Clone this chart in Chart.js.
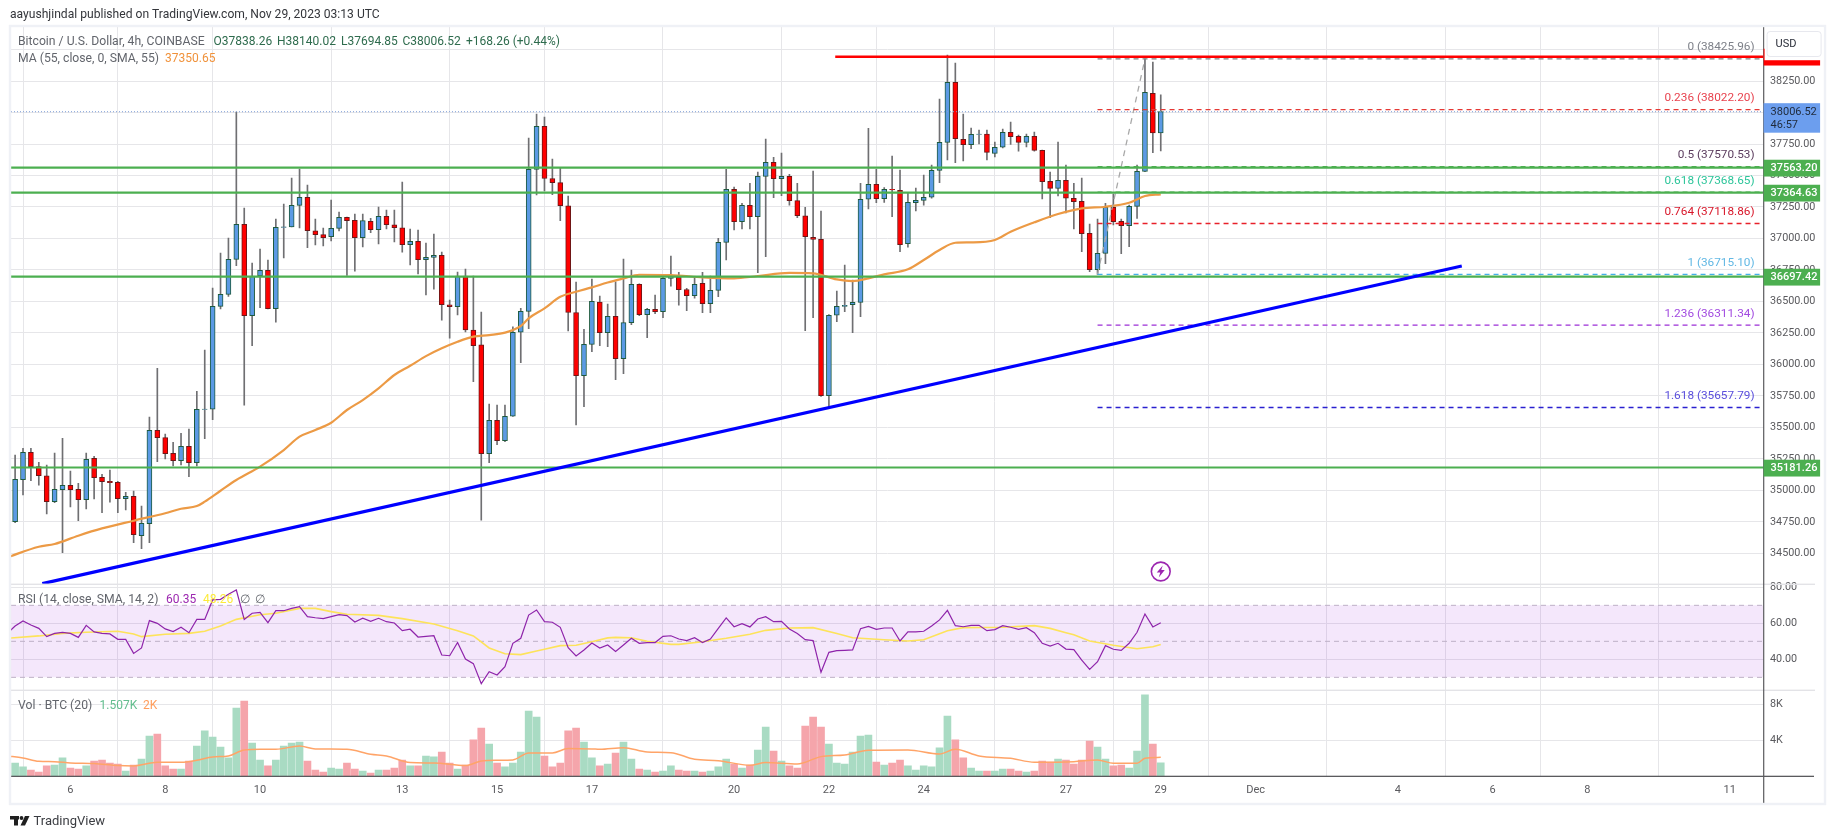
<!DOCTYPE html>
<html>
<head>
<meta charset="utf-8">
<title>Bitcoin / U.S. Dollar, 4h</title>
<script src="https://cdn.jsdelivr.net/npm/chart.js@4"></script>
<style>
  html, body { margin: 0; padding: 0; background: #fff; }
  canvas { display: block; }
</style>
</head>
<body>
<canvas id="canvas" width="1835" height="839"></canvas>
<script>
// bar number 0 is Nov 6 00:00, one bar is 4 hours
var firstCandle = -7;
var opens = [34751,35084,35302,35188,35116,34910,35005,35040,35008,34925,
  35254,35103,35072,35064,34933,34953,34640,34735,35477,35418,
  35294,35235,35350,35219,35643,35645,36461,36556,36834,37112,
  36386,36702,36747,36442,37088,37092,37263,37327,37061,37030,
  37014,37080,37168,37143,37006,37136,37069,37176,37109,37085,
  36950,36977,36831,36850,36866,36474,36458,36702,36273,36155,
  35291,35556,35394,35588,36255,36421,37549,37890,37476,37443,
  37260,36412,35910,36159,36495,36252,36382,36045,36332,36636,
  36394,36437,36418,36683,36691,36595,36545,36644,36482,36588,
  36969,37390,37133,37263,37173,37493,37604,37474,37493,37300,
  37180,37009,36993,35751,36390,36461,36474,36493,37311,37430,
  37315,37390,37383,36958,37284,37303,37327,37541,37763,38240,
  37787,37744,37827,37829,37676,37724,37843,37811,37763,37811,
  37700,37453,37398,37462,37319,37295,37041,36752,36882,37247,
  37136,37101,37255,37533,38152,37838.26];
var highs = [35280,35334,35334,35222,35201,35296,35413,35153,35056,35296,
  35270,35127,35161,35072,34984,34995,34875,35582,35969,35447,
  35381,35453,35487,35786,36114,36606,36884,37003,38004,37242,
  36805,36916,36829,37154,37273,37480,37551,37424,37154,37083,
  37305,37210,37170,37194,37194,37160,37250,37226,37226,37448,
  37075,37067,36964,37035,36892,36511,36733,36757,36702,36416,
  35685,35677,35677,36299,36445,37797,37988,37964,37631,37562,
  37337,36654,36278,36678,36543,36479,36656,36837,36749,36640,
  36445,36551,36696,36860,36731,36604,36696,36731,36702,37001,
  37549,37408,37279,37438,37527,37789,37644,37678,37509,37438,
  37247,37535,37218,36395,36583,36789,36670,37438,37874,37549,
  37403,37654,37543,37366,37400,37504,37583,38107,38456,38393,
  37988,37877,37861,37861,37766,37869,37924,37821,37829,37845,
  37702,37527,37766,37583,37438,37480,37115,37154,37279,37353,
  37154,37265,37583,38425.96,38401,38140.02];
var lows = [34743,34963,35076,35042,34812,34902,34505,34868,34759,34852,
  34931,34822,34907,34822,34844,34584,34537,34584,35227,35249,
  35193,35201,35108,35193,35410,35561,36440,36540,36783,35677,
  36148,36450,36440,36336,36845,37091,37083,36926,36948,36940,
  36980,37059,36707,36741,36932,37045,36956,37075,36972,36892,
  36789,36718,36551,36598,36352,36209,36392,36257,35862,34764,
  35219,35362,35386,35586,36013,36283,37345,37377,37347,37141,
  36265,35519,35664,36101,36148,36140,35878,35926,36315,36386,
  36212,36402,36371,36622,36471,36426,36525,36410,36410,36537,
  36829,37067,37075,37075,36728,36855,37323,37339,37265,37165,
  36267,36371,35745,35664,36339,36418,36252,36379,37234,37284,
  37287,37173,36895,36930,37218,37265,37319,37443,37623,37601,
  37615,37712,37750,37623,37647,37718,37747,37694,37726,37694,
  37313,37165,37337,37202,37075,36895,36736,36715.1,36799,37107,
  36879,36934,37160,37530,37681,37694.85];
var closes = [35088,35302,35188,35116,34910,35008,35040,35005,34925,35246,
  35100,35068,35060,34933,34953,34648,34738,35477,35418,35291,
  35235,35350,35219,35643,35645,36461,36556,36834,37112,36386,
  36702,36747,36442,37088,37092,37263,37327,37061,37030,37006,
  37080,37168,37141,37006,37141,37069,37176,37109,37085,36950,
  36977,36831,36850,36866,36474,36458,36702,36273,36148,35291,
  35556,35394,35588,36255,36421,37549,37890,37476,37443,37260,
  36412,35910,36159,36501,36252,36382,36045,36332,36636,36394,
  36437,36418,36683,36696,36593,36545,36636,36482,36588,36969,
  37390,37133,37263,37173,37493,37604,37474,37493,37300,37180,
  37014,36993,35751,36390,36461,36469,36493,37311,37430,37315,
  37390,37385,36950,37287,37303,37327,37541,37763,38240,37792,
  37744,37827,37829,37684,37724,37843,37808,37763,37811,37700,
  37450,37398,37462,37319,37292,37038,36752,36882,37247,37133,
  37101,37255,37533,38160,37838.26,38006.52];

// volume and RSI also have the cut off bar at the left edge
var firstPaneBar = -8;
var volumes = [815,1480,1040,700,480,1150,1260,2040,925,815,
  1150,1700,1815,1480,1370,590,1260,1925,4480,4700,
  1150,815,815,1700,3370,5040,4370,3260,2040,7590,
  8370,3700,1815,1150,1815,3370,3700,3815,1700,700,
  480,925,815,1480,815,590,370,700,700,925,
  1815,1150,1150,2260,2150,2700,1480,815,1260,4040,
  5370,3590,1480,1040,1480,2700,7260,6590,2260,1040,
  1480,5040,5370,3815,2040,1150,1370,2590,3815,1925,
  815,700,480,590,1150,700,590,590,480,590,
  1040,1925,1370,925,1260,2925,5480,2815,1700,1150,
  925,5590,6590,5480,3590,1480,1370,2700,4480,4590,
  1590,1260,1480,1815,1150,700,1150,1040,3150,6700,
  4040,2040,925,590,590,590,815,815,590,480,
  590,1700,1590,1925,1815,1370,1815,3925,3260,1925,
  1150,1260,925,2815,9040,3590,1507];
var rsiValues = [54.4,58.5,61.3,59.1,57.2,52.6,54.4,55,54.4,52.2,
  58.9,55.2,54.4,54.1,51.1,51.1,43.3,46.3,61.5,60,
  56.9,55.4,57.8,54.8,62.2,62.2,73,73.3,76.1,78.5,
  62.2,65.6,66.1,60.4,67,67,68.3,69.3,63.7,63.1,
  62.6,63.7,64.8,64.3,60.7,62.8,61.1,62.8,60.9,60.2,
  55.9,56.7,52.4,52.8,53.1,42.4,42,49.4,40.2,37.6,
  26.5,33.1,31.3,35.9,48.9,51.7,64.6,67.4,60.9,60.6,
  57.8,46.5,41.9,45.2,49.1,46.3,48,44.4,48,51.7,
  48.9,49.3,49.3,52.8,53.1,51.3,50.4,52,49.3,51.3,
  57.2,63,58.1,59.8,58,62.4,63.7,60.9,61.1,56.9,
  54.3,50.9,50.4,32.8,43.9,44.8,45,45.2,57,58.3,
  56.7,57.4,57.4,50.2,55.2,55.2,55.6,58.5,61.9,67.2,
  58.7,58.1,58.9,58.9,55.9,56.5,58.7,57.8,56.7,57.6,
  54.8,48.9,47.4,48.9,45.7,45.4,39.6,34.4,38.7,47.6,
  45.6,45,48.9,55,65.2,58,60.35];

// moving averages read at the bars listed next to them
var maBars = [-8,-4,-2,1,4,8,12,14,16,17,19,21,24,27,29,31,33,35,37,39,41,43,45,47,49,51,53,55,57,58,60,62,64,66,68,70,72,76,80,84,87,91,94,97,99,101,103,106,108,110,112,114,117,119,122,125,128,131,134,136,138];
var maValues = [34468,34552,34574,34640,34698,34759,34818,34854,34875,34910,34997,35082,35188,35320,35426,35479,35537,35638,35717,35810,35916,35989,36066,36128,36180,36220,36233,36252,36305,36366,36445,36537,36577,36612,36650,36682,36712,36710,36691,36683,36702,36726,36723,36675,36662,36683,36715,36755,36829,36908,36966,36969,36988,37053,37128,37194,37239,37252,37284,37337,37350.65];
var rsiMaBars = [-8,-4,-1,2,6,8,9,12,15,17,19,21,24,26,29,31,33,35,39,42,46,49,51,53,55,57,59,60,62,64,66,68,69,71,73,76,77,80,83,86,88,91,94,97,99,103,106,108,111,113,118,122,124,126,127,129,132,135,137,138];
var rsiMaValues = [51.7,53,54.4,55,55.6,54.1,52.6,53.9,54.4,55.6,58.5,62.2,64.8,65.6,68.3,68.3,66.5,65,64.4,62.6,59.6,55.9,53,46.3,43.1,42.6,44.6,45.6,47.6,47.8,49.8,51.9,52.2,52,50,48.3,48.3,49.8,51.7,53.9,56.1,57.4,57.6,54.4,52,50.9,50.2,50.9,55.9,57.6,57.8,58.7,57.2,54.8,53.7,50.2,47.8,45.9,47,48.26];
var volMaBars = [-8,-6,-4,-2,0,3,6,8,11,14,16,18,20,22,24,26,29,31,35,38,40,43,46,50,52,54,56,58,61,63,66,67,70,73,76,79,82,86,88,92,95,98,101,106,110,112,115,119,122,127,130,132,135,136,138];
var volMaValues = [2260,2040,1670,1630,1480,1410,1190,1150,1560,1560,1780,2150,2260,2925,3000,3000,3370,3040,3000,2445,2260,1520,1480,1190,1700,1780,1815,2590,2590,3075,3040,3000,3185,2700,2630,1890,1740,1220,1520,1370,2185,2370,2890,2925,2480,3000,2260,2000,1560,1630,1815,1445,1445,2000,2110];

var supportLevels = [37563.20, 37364.63, 36697.42, 35181.26];
var fibRatios = ["0", "0.236", "0.5", "0.618", "0.764", "1", "1.236", "1.618"];
var fibPrices = [38425.96, 38022.20, 37570.53, 37368.65, 37118.86, 36715.10, 36311.34, 35657.79];
var fibLabelColors = ["#7e8189", "#e8434f", "#5b3c5e", "#2cc59a", "#d8172a", "#62b8e4", "#a24be0", "#5a4fdc"];
// 0.5 and 0.618 lie under the green levels
var fibLineColors = ["#808080", "#e53935", "#4caf50", "#4caf50", "#e8202a", "#45aee8", "#9c2fd6", "#2a20d0"];
var fibStartBar = 130;
var fibSwingBars = [130, 136];
var fibSwingPrices = [36715.10, 38425.96];
var lastPrice = 38006.52;
var resistanceBars = [96.8, 214.3];
var resistancePrice = 38443;
var trendBars = [-3.56, 176.1];
var trendPrices = [34259, 36781];

var priceTicks = [38500,38250,38000,37750,37500,37250,37000,36750,36500,36250,36000,35750,35500,35250,35000,34750,34500];
var rsiTicks = [80,60,40];
var rsiBands = [70,50,30];
var volTicks = [8000,4000];
var timeTickBars = [0,12,24,42,54,66,84,96,108,126,138,150,168,180,192,210];
var timeTickLabels = ["6","8","10","13","15","17","20","22","24","27","29","Dec","4","6","8","11"];

var xMin = -7.52, xMax = 214.3;
var uiFont = "Roboto";
var axisColor = "#5a5a5e";

function toPoints(bars, values) {
  return bars.map((b, i) => ({x: b, y: values[i]}));
}
function flat(value, from, to) {
  return [{x: from, y: value}, {x: to, y: value}];
}
function lineSet(data, axis, color, width, order, dash) {
  return {type: 'line', data: data, yAxisID: axis, borderColor: color, borderWidth: width,
    borderDash: dash || [], pointRadius: 0, tension: 0, fill: false, order: order};
}

var candleUp = closes.map((c, i) => c >= opens[i]);
var datasets = [];

// everything on the price pane, lowest order is on top
datasets.push(lineSet(toPoints(trendBars, trendPrices), 'y', '#0000ff', 3.2, 1));
datasets.push(lineSet(toPoints(resistanceBars, [resistancePrice, resistancePrice]), 'y', '#ff0000', 2.6, 2));
supportLevels.forEach(p => datasets.push(lineSet(flat(p, xMin, xMax), 'y', '#4caf50', 2.2, 3)));
fibPrices.forEach((p, i) => datasets.push(lineSet(flat(p, fibStartBar, xMax), 'y', fibLineColors[i], 1.3, 5, [5, 4])));
datasets.push(lineSet(toPoints(fibSwingBars, fibSwingPrices), 'y', '#a8a8a8', 1.3, 5, [6, 5]));
datasets.push(lineSet(flat(lastPrice, xMin, xMax), 'y', '#7f9fd8', 1, 6, [1, 2]));
var maLine = lineSet(toPoints(maBars, maValues), 'y', '#ec9a45', 2.2, 7);
maLine.cubicInterpolationMode = 'monotone';
datasets.push(maLine);
datasets.push({
  type: 'bar', yAxisID: 'y', order: 8, grouped: false, barThickness: 5, borderWidth: 1, borderSkipped: false,
  data: opens.map((o, i) => ({x: firstCandle + i, y: [o, closes[i]]})),
  backgroundColor: candleUp.map(u => u ? '#5b9ae4' : '#ff0000'),
  borderColor: candleUp.map(u => u ? '#1d5a3e' : '#6e1616')
});
datasets.push({
  type: 'bar', yAxisID: 'y', order: 9, grouped: false, barThickness: 1,
  data: lows.map((l, i) => ({x: firstCandle + i, y: [l, highs[i]]})),
  backgroundColor: '#6f6f72'
});

// RSI pane
datasets.push(lineSet(toPoints(rsiValues.map((v, i) => firstPaneBar + i), rsiValues), 'rsi', '#8e24aa', 1.2, 10));
datasets.push(lineSet(toPoints(rsiMaBars, rsiMaValues), 'rsi', '#fde35a', 1.6, 11));
rsiBands.forEach(b => datasets.push(lineSet(flat(b, xMin, xMax), 'rsi', '#bdb0c6', 1, 12, [5, 4])));
var rsiFill = lineSet(flat(rsiBands[0], xMin, xMax), 'rsi', 'rgba(0,0,0,0)', 0, 13);
rsiFill.fill = {value: rsiBands[2]};
rsiFill.backgroundColor = 'rgba(156,39,220,0.11)';
datasets.push(rsiFill);

// volume pane
var volMaLine = lineSet(toPoints(volMaBars, volMaValues), 'vol', '#ffa468', 1.5, 14);
volMaLine.cubicInterpolationMode = 'monotone';
datasets.push(volMaLine);
var volUp = volumes.map((v, i) => {
  var c = i - 1;
  return c < 0 ? true : candleUp[c];
});
datasets.push({
  type: 'bar', yAxisID: 'vol', order: 15, grouped: false, barThickness: 7,
  data: volumes.map((v, i) => ({x: firstPaneBar + i, y: v})),
  backgroundColor: volUp.map(u => u ? '#a9dbc3' : '#f5a5ab')
});

function text(ctx, str, x, y, color, size, align, weight) {
  ctx.font = (weight || 'normal') + ' ' + size + 'px ' + uiFont;
  ctx.fillStyle = color;
  ctx.textAlign = align || 'left';
  ctx.textBaseline = 'middle';
  ctx.fillText(str, x, y);
}

// tag on the price axis, follows the price scale
function priceTag(ctx, chart, value, label, color) {
  var a = chart.chartArea;
  var y = chart.scales.y.getPixelForValue(value);
  ctx.fillStyle = color;
  ctx.fillRect(a.right, y - 7.8, 56.5, 16.8);
  text(ctx, label, a.right + 7, y + 0.8, '#ffffff', 11, 'left', '500');
}

var overlayPlugin = {
  id: 'overlay',
  beforeDraw(chart) {
    var ctx = chart.ctx;
    ctx.fillStyle = '#ffffff';
    ctx.fillRect(0, 0, chart.width, chart.height);
  },
  afterDraw(chart) {
    var ctx = chart.ctx, a = chart.chartArea, s = chart.scales;
    ctx.save();

    // pane separators and axis lines
    ctx.fillStyle = '#e3e3e7';
    ctx.fillRect(a.left, s.y.bottom - 0.7, 1815 - a.left, 1.4);
    ctx.fillRect(a.left, s.rsi.bottom - 0.7, 1815 - a.left, 1.4);
    ctx.fillStyle = axisColor;
    ctx.fillRect(a.left, a.bottom - 0.6, 1814 - a.left, 1.3);
    ctx.fillRect(a.right - 0.5, a.top, 1.2, s.x.bottom - a.top);

    // outer frame
    ctx.strokeStyle = '#eff1f6';
    ctx.lineWidth = 2.4;
    ctx.strokeRect(10, 26, 1815, 778);

    // fib labels sit above their lines
    fibRatios.forEach((r, i) => {
      var y = s.y.getPixelForValue(fibPrices[i]) - 11.4;
      text(ctx, r + ' (' + fibPrices[i].toFixed(2) + ')', a.right - 9, y, fibLabelColors[i], 11.8, 'right');
    });

    // price tags
    supportLevels.forEach(p => priceTag(ctx, chart, p, p.toFixed(2), '#4caf50'));
    var lastY = s.y.getPixelForValue(lastPrice);
    ctx.fillStyle = '#6c9eee';
    ctx.fillRect(a.right, lastY - 8.5, 56.5, 29.5);
    text(ctx, lastPrice.toFixed(2), a.right + 7, lastY + 0.5, '#1f2a3a', 11);
    text(ctx, '46:57', a.right + 7, lastY + 13.5, '#1f2a3a', 11);

    var resY = s.y.getPixelForValue(resistancePrice);
    ctx.fillStyle = '#ff0000';
    ctx.fillRect(a.right, resY - 8, 56.5, 16.8);
    ctx.fillStyle = '#ffffff';
    ctx.fillRect(a.right + 1, 27, 59, resY + 3.5 - 27);
    ctx.strokeStyle = '#e7e8ee';
    ctx.lineWidth = 1;
    ctx.beginPath();
    ctx.roundRect(a.right + 3.5, 31.5, 54, 25, 3);
    ctx.stroke();
    text(ctx, 'USD', a.right + 12, 44, '#2a2e39', 11);

    // alert icon on the last bar
    var iconX = s.x.getPixelForValue(138), iconY = 571.5;
    ctx.strokeStyle = '#9c27b0';
    ctx.lineWidth = 1.6;
    ctx.beginPath();
    ctx.arc(iconX, iconY, 9.4, 0, Math.PI * 2);
    ctx.stroke();
    ctx.fillStyle = '#9c27b0';
    ctx.beginPath();
    ctx.moveTo(iconX + 2, iconY - 6);
    ctx.lineTo(iconX - 4, iconY + 1);
    ctx.lineTo(iconX - 0.5, iconY + 1);
    ctx.lineTo(iconX - 2, iconY + 6);
    ctx.lineTo(iconX + 4, iconY - 1.5);
    ctx.lineTo(iconX + 0.5, iconY - 1.5);
    ctx.closePath();
    ctx.fill();

    // header and legends
    var gray = '#62656c', green = '#2e6b4d';
    text(ctx, 'aayushjindal published on TradingView.com, Nov 29, 2023 03:13 UTC', 10, 14.5, '#33353a', 12.1);
    text(ctx, 'Bitcoin / U.S. Dollar, 4h, COINBASE', 18, 41.7, gray, 12.2);
    text(ctx, 'O37838.26', 213.5, 41.7, green, 12);
    text(ctx, 'H38140.02', 277, 41.7, green, 12);
    text(ctx, 'L37694.85', 341, 41.7, green, 12);
    text(ctx, 'C38006.52', 402.5, 41.7, green, 12);
    text(ctx, '+168.26 (+0.44%)', 466, 41.7, green, 12);
    text(ctx, 'MA (55, close, 0, SMA, 55)', 18, 58.7, gray, 12.2);
    text(ctx, '37350.65', 165, 58.7, '#f0923b', 12);
    text(ctx, 'RSI (14, close, SMA, 14, 2)', 18, 600, gray, 12.2);
    text(ctx, '60.35', 166, 600, '#9c27b0', 12);
    text(ctx, '48.26', 203, 600, '#fdeb3b', 12);
    text(ctx, '\u2205', 240, 600, gray, 11.5);
    text(ctx, '\u2205', 255, 600, gray, 11.5);
    text(ctx, 'Vol \u00b7 BTC (20)', 18, 706, gray, 12.2);
    text(ctx, '1.507K', 99.6, 706, '#62bd8e', 12);
    text(ctx, '2K', 143, 706, '#ff9d5c', 12);

    // TradingView mark
    ctx.fillStyle = '#1f1f1f';
    ctx.fillRect(10, 816, 9, 3.5);
    ctx.fillRect(14, 816, 4, 9.5);
    ctx.beginPath();
    ctx.arc(21.5, 818, 1.9, 0, Math.PI * 2);
    ctx.fill();
    ctx.beginPath();
    ctx.moveTo(25, 816);
    ctx.lineTo(29.5, 816);
    ctx.lineTo(25, 825.5);
    ctx.lineTo(20.5, 825.5);
    ctx.closePath();
    ctx.fill();
    text(ctx, 'TradingView', 33.5, 821.5, '#3b3d42', 13);
    ctx.restore();
  }
};

var gridColor = '#e6e6e9';

new Chart(document.getElementById('canvas'), {
  data: {datasets: datasets},
  options: {
    responsive: false,
    animation: false,
    layout: {padding: {left: 11, right: 9.4, top: 27, bottom: 35.7}},
    plugins: {legend: {display: false}, tooltip: {enabled: false}, title: {display: false}},
    scales: {
      x: {
        type: 'linear', min: xMin, max: xMax, offset: false,
        grid: {color: gridColor, drawTicks: false},
        border: {display: false},
        afterBuildTicks: s => { s.ticks = timeTickBars.map(v => ({value: v})); },
        afterFit: s => { s.height = 27; },
        ticks: {
          autoSkip: false, maxRotation: 0, padding: 7, color: axisColor, font: {family: uiFont, size: 11},
          callback: v => timeTickLabels[timeTickBars.indexOf(v)]
        }
      },
      y: {
        type: 'linear', position: 'right', stack: 'panes', stackWeight: 557.3, weight: 1,
        min: 34254, max: 38679,
        grid: {color: gridColor, drawTicks: false},
        border: {display: false},
        afterBuildTicks: s => { s.ticks = priceTicks.map(v => ({value: v})); },
        afterFit: s => { s.width = 62; },
        ticks: {padding: 6.4, crossAlign: 'near', color: axisColor, font: {family: uiFont, size: 10.8}, callback: v => v.toFixed(2)}
      },
      rsi: {
        type: 'linear', position: 'right', stack: 'panes', stackWeight: 106, weight: 2,
        min: 22.8, max: 81.67,
        grid: {color: gridColor, drawTicks: false},
        border: {display: false},
        afterBuildTicks: s => { s.ticks = rsiTicks.map(v => ({value: v})); },
        afterFit: s => { s.width = 62; },
        ticks: {padding: 6.4, crossAlign: 'near', color: axisColor, font: {family: uiFont, size: 10.8}, callback: v => v.toFixed(2)}
      },
      vol: {
        type: 'linear', position: 'right', stack: 'panes', stackWeight: 86, weight: 3,
        min: 0, max: 9555,
        grid: {color: gridColor, drawTicks: false},
        border: {display: false},
        afterBuildTicks: s => { s.ticks = volTicks.map(v => ({value: v})); },
        afterFit: s => { s.width = 62; },
        ticks: {padding: 6.4, crossAlign: 'near', color: axisColor, font: {family: uiFont, size: 10.8}, callback: v => (v / 1000) + 'K'}
      }
    }
  },
  plugins: [overlayPlugin]
});
</script>
</body>
</html>
